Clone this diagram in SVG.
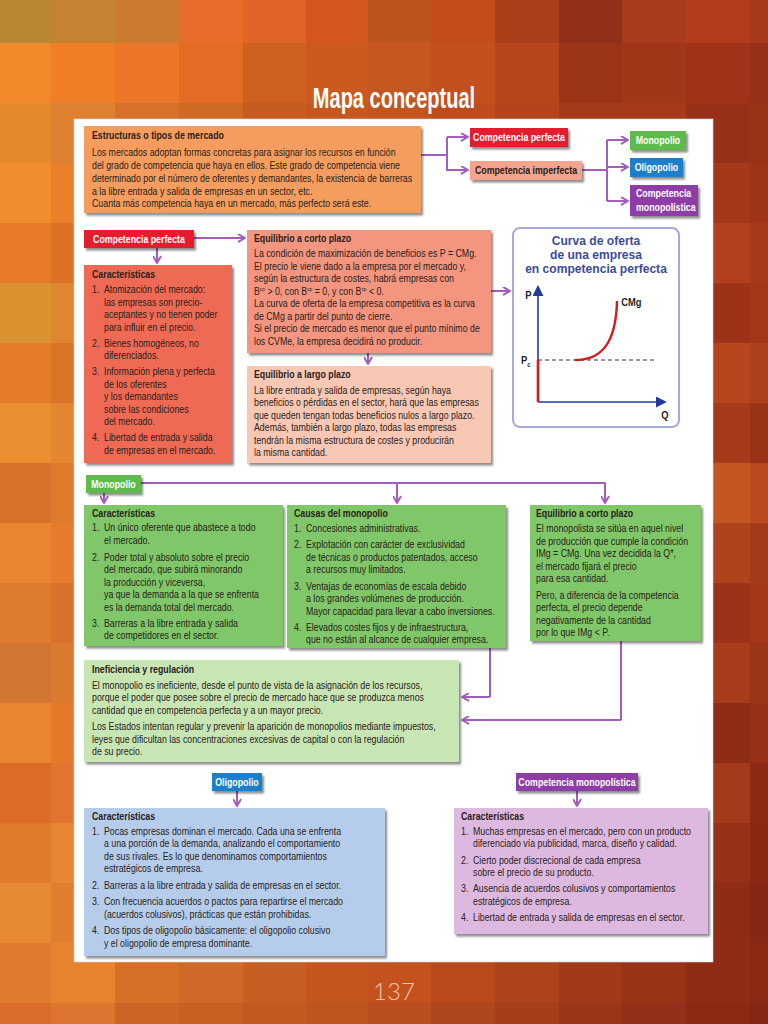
<svg xmlns="http://www.w3.org/2000/svg" width="768" height="1024" viewBox="0 0 768 1024">
<defs>
<style>
.t{font-family:"Liberation Sans",Arial,Helvetica,sans-serif;font-size:11px;fill:#2a2119}
.h{font-weight:bold}
.lw{font-family:"Liberation Sans",Arial,sans-serif;font-size:11px;font-weight:bold;fill:#fff;text-anchor:middle}
.ld{font-family:"Liberation Sans",Arial,sans-serif;font-size:11px;font-weight:bold;fill:#2a2119;text-anchor:middle}
.cn{fill:none;stroke:#A45CBD;stroke-width:2}
.ar{marker-end:url(#arr)}
.bx{filter:url(#sh)}
.g{font-family:"Liberation Sans",Arial,sans-serif;font-weight:bold;fill:#1e1e1e;font-size:11px}
</style>
<filter id="sh" x="-5%" y="-5%" width="115%" height="125%"><feDropShadow dx="2" dy="2.5" stdDeviation="1.2" flood-color="#000" flood-opacity="0.45"/></filter>
<marker id="arr" viewBox="0 0 10 10" refX="9" refY="5" markerWidth="9" markerHeight="9" orient="auto" markerUnits="userSpaceOnUse"><path d="M2,1 L9,5 L2,9" fill="none" stroke="#A45CBD" stroke-width="2.2" stroke-linecap="round" stroke-linejoin="round"/></marker>
<marker id="ax" viewBox="0 0 10 10" refX="1" refY="5" markerWidth="11" markerHeight="11" orient="auto" markerUnits="userSpaceOnUse"><path d="M0,0 L10,5 L0,10 z" fill="#23399B"/></marker>
</defs>

<g id="bg">
<rect x="0" y="0" width="768" height="1024" fill="#C65A22"/>
<g>
<rect x="-13" y="-17" width="64" height="60" fill="#B8872F"/><rect x="51" y="-17" width="64" height="60" fill="#C58230"/><rect x="115" y="-17" width="64" height="60" fill="#CC7A2E"/><rect x="179" y="-17" width="64" height="60" fill="#E96D2A"/><rect x="243" y="-17" width="64" height="60" fill="#E06427"/><rect x="306" y="-17" width="64" height="60" fill="#D3571F"/><rect x="368" y="-17" width="64" height="60" fill="#BD5420"/><rect x="431" y="-17" width="64" height="60" fill="#C34E1B"/><rect x="495" y="-17" width="64" height="60" fill="#AB3F1A"/><rect x="559" y="-17" width="64" height="60" fill="#90301A"/><rect x="622" y="-17" width="64" height="60" fill="#A93A1B"/><rect x="686" y="-17" width="64" height="60" fill="#B23D1C"/><rect x="750" y="-17" width="64" height="60" fill="#A7381A"/>
<rect x="-13" y="43" width="64" height="60" fill="#F28A2C"/><rect x="51" y="43" width="64" height="60" fill="#EF7E26"/><rect x="115" y="43" width="64" height="60" fill="#EC7627"/><rect x="179" y="43" width="64" height="60" fill="#E46B26"/><rect x="243" y="43" width="64" height="60" fill="#CF611F"/><rect x="306" y="43" width="64" height="60" fill="#CC5A1E"/><rect x="368" y="43" width="64" height="60" fill="#C75720"/><rect x="431" y="43" width="64" height="60" fill="#C45020"/><rect x="495" y="43" width="64" height="60" fill="#B8461C"/><rect x="559" y="43" width="64" height="60" fill="#9C3418"/><rect x="622" y="43" width="64" height="60" fill="#A23619"/><rect x="686" y="43" width="64" height="60" fill="#A03219"/><rect x="750" y="43" width="64" height="60" fill="#98301A"/>
<rect x="-13" y="103" width="64" height="60" fill="#E48A2C"/><rect x="51" y="103" width="64" height="60" fill="#DD8130"/><rect x="115" y="103" width="64" height="60" fill="#D77028"/><rect x="179" y="103" width="64" height="60" fill="#CF6A24"/><rect x="243" y="103" width="64" height="60" fill="#C65C21"/><rect x="306" y="103" width="64" height="60" fill="#C4581F"/><rect x="368" y="103" width="64" height="60" fill="#C2541E"/><rect x="431" y="103" width="64" height="60" fill="#BE4C1C"/><rect x="495" y="103" width="64" height="60" fill="#B4441B"/><rect x="559" y="103" width="64" height="60" fill="#A43A19"/><rect x="622" y="103" width="64" height="60" fill="#A63A1A"/><rect x="686" y="103" width="64" height="60" fill="#983017"/><rect x="750" y="103" width="64" height="60" fill="#9A3218"/>
<rect x="-13" y="163" width="64" height="60" fill="#F18D2F"/><rect x="51" y="163" width="64" height="60" fill="#E98029"/><rect x="686" y="163" width="64" height="60" fill="#A43819"/><rect x="750" y="163" width="64" height="60" fill="#9E3318"/>
<rect x="-13" y="223" width="64" height="60" fill="#E67A27"/><rect x="51" y="223" width="64" height="60" fill="#DC7027"/><rect x="686" y="223" width="64" height="60" fill="#B2401C"/><rect x="750" y="223" width="64" height="60" fill="#A83A1A"/>
<rect x="-13" y="283" width="64" height="60" fill="#D9922F"/><rect x="51" y="283" width="64" height="60" fill="#E08530"/><rect x="686" y="283" width="64" height="60" fill="#9E3218"/><rect x="750" y="283" width="64" height="60" fill="#A5361A"/>
<rect x="-13" y="343" width="64" height="60" fill="#E47C2A"/><rect x="51" y="343" width="64" height="60" fill="#D97328"/><rect x="686" y="343" width="64" height="60" fill="#B8461D"/><rect x="750" y="343" width="64" height="60" fill="#AE3F1C"/>
<rect x="-13" y="403" width="64" height="60" fill="#EB8E31"/><rect x="51" y="403" width="64" height="60" fill="#E48530"/><rect x="686" y="403" width="64" height="60" fill="#A63A1A"/><rect x="750" y="403" width="64" height="60" fill="#9A3218"/>
<rect x="-13" y="463" width="64" height="60" fill="#D8722A"/><rect x="51" y="463" width="64" height="60" fill="#DE7A2C"/><rect x="686" y="463" width="64" height="60" fill="#C45622"/><rect x="750" y="463" width="64" height="60" fill="#B84A1E"/>
<rect x="-13" y="523" width="64" height="60" fill="#EA8430"/><rect x="51" y="523" width="64" height="60" fill="#E47C2B"/><rect x="686" y="523" width="64" height="60" fill="#B0421C"/><rect x="750" y="523" width="64" height="60" fill="#A43A1A"/>
<rect x="-13" y="583" width="64" height="60" fill="#DE7C2E"/><rect x="51" y="583" width="64" height="60" fill="#D8722A"/><rect x="686" y="583" width="64" height="60" fill="#9C3219"/><rect x="750" y="583" width="64" height="60" fill="#A53819"/>
<rect x="-13" y="643" width="64" height="60" fill="#D27432"/><rect x="51" y="643" width="64" height="60" fill="#DA7A2E"/><rect x="686" y="643" width="64" height="60" fill="#A83C1B"/><rect x="750" y="643" width="64" height="60" fill="#9C3418"/>
<rect x="-13" y="703" width="64" height="60" fill="#EA842E"/><rect x="51" y="703" width="64" height="60" fill="#E27A2A"/><rect x="686" y="703" width="64" height="60" fill="#8E2C16"/><rect x="750" y="703" width="64" height="60" fill="#983017"/>
<rect x="-13" y="763" width="64" height="60" fill="#DA6C28"/><rect x="51" y="763" width="64" height="60" fill="#E07430"/><rect x="686" y="763" width="64" height="60" fill="#A43A1A"/><rect x="750" y="763" width="64" height="60" fill="#8C2A15"/>
<rect x="-13" y="823" width="64" height="60" fill="#E27A2C"/><rect x="51" y="823" width="64" height="60" fill="#E88634"/><rect x="686" y="823" width="64" height="60" fill="#963018"/><rect x="750" y="823" width="64" height="60" fill="#8A2814"/>
<rect x="-13" y="883" width="64" height="60" fill="#E88A34"/><rect x="51" y="883" width="64" height="60" fill="#DE7E2E"/><rect x="686" y="883" width="64" height="60" fill="#8E2C16"/><rect x="750" y="883" width="64" height="60" fill="#862713"/>
<rect x="-13" y="943" width="64" height="60" fill="#E07A2E"/><rect x="51" y="943" width="64" height="60" fill="#E8822F"/><rect x="115" y="943" width="64" height="60" fill="#D66E26"/><rect x="179" y="943" width="64" height="60" fill="#D0682A"/><rect x="243" y="943" width="64" height="60" fill="#C85E24"/><rect x="306" y="943" width="64" height="60" fill="#C4561F"/><rect x="368" y="943" width="64" height="60" fill="#C4521F"/><rect x="431" y="943" width="64" height="60" fill="#BA4A1C"/><rect x="495" y="943" width="64" height="60" fill="#AE421B"/><rect x="559" y="943" width="64" height="60" fill="#A23A19"/><rect x="622" y="943" width="64" height="60" fill="#9A3218"/><rect x="686" y="943" width="64" height="60" fill="#8E2C16"/><rect x="750" y="943" width="64" height="60" fill="#8A2A15"/>
<rect x="-13" y="1003" width="64" height="60" fill="#D86C28"/><rect x="51" y="1003" width="64" height="60" fill="#DC7430"/><rect x="115" y="1003" width="64" height="60" fill="#CC6426"/><rect x="179" y="1003" width="64" height="60" fill="#C86024"/><rect x="243" y="1003" width="64" height="60" fill="#C25A22"/><rect x="306" y="1003" width="64" height="60" fill="#BE5420"/><rect x="368" y="1003" width="64" height="60" fill="#BA4E1E"/><rect x="431" y="1003" width="64" height="60" fill="#B0461C"/><rect x="495" y="1003" width="64" height="60" fill="#A63E1A"/><rect x="559" y="1003" width="64" height="60" fill="#9C3618"/><rect x="622" y="1003" width="64" height="60" fill="#94301A"/><rect x="686" y="1003" width="64" height="60" fill="#8A2A15"/><rect x="750" y="1003" width="64" height="60" fill="#842614"/>
</g>
</g>

<g id="title"><g transform="translate(394,0) scale(0.69,1)"><text x="0" y="108" text-anchor="middle" font-family="Liberation Sans, Arial, sans-serif" font-size="29" font-weight="bold" fill="#fff">Mapa conceptual</text></g></g>

<rect id="panel" x="74" y="119" width="639" height="843" fill="#fff" stroke="#d8d8d8" stroke-width="0.6"/>

<g id="connectors">
<path class="cn" d="M421,155 H447 M447,137 V171 M582,170 H607 M607,140 V201 M141,483 H605 M490,648 V697 M621,641 V720"/>
<path class="cn ar" d="M447,137 H468"/>
<path class="cn ar" d="M447,170 H468"/>
<path class="cn ar" d="M607,140 H628"/>
<path class="cn ar" d="M607,167 H628"/>
<path class="cn ar" d="M607,201 H628"/>
<path class="cn ar" d="M194,238 H245"/>
<path class="cn ar" d="M157,247 V263"/>
<path class="cn ar" d="M491,291 H510"/>
<path class="cn ar" d="M368,353 V364"/>
<path class="cn ar" d="M397,483 V503"/>
<path class="cn ar" d="M605,483 V503"/>
<path class="cn ar" d="M104,492 V503"/>
<path class="cn ar" d="M490,697 H462"/>
<path class="cn ar" d="M621,720 H462"/>
<path class="cn ar" d="M237,791 V806"/>
<path class="cn ar" d="M577,791 V806"/>
</g>

<g id="estructuras">
<rect class="bx" x="84" y="126" width="337" height="87" fill="#F59D5E"/>
<g transform="translate(92,0) scale(0.8,1)">
<text class="t h" x="0" y="139">Estructuras o tipos de mercado</text>
<text class="t" x="0" y="156">Los mercados adoptan formas concretas para asignar los recursos en función</text>
<text class="t" x="0" y="169">del grado de competencia que haya en ellos. Este grado de competencia viene</text>
<text class="t" x="0" y="182">determinado por el número de oferentes y demandantes, la existencia de barreras</text>
<text class="t" x="0" y="195">a la libre entrada y salida de empresas en un sector, etc.</text>
<text class="t" x="0" y="207">Cuanta más competencia haya en un mercado, más perfecto será este.</text>
</g>
</g>

<g id="comp-perfecta-top">
<rect class="bx" x="470" y="128" width="98" height="19" fill="#E31B2D"/>
<g transform="translate(519,0) scale(0.8,1)"><text class="lw" x="0" y="141">Competencia perfecta</text></g>
</g>
<g id="comp-imperfecta">
<rect class="bx" x="470" y="161" width="112" height="19" fill="#F6A38D"/>
<g transform="translate(526,0) scale(0.8,1)"><text class="ld" x="0" y="174">Competencia imperfecta</text></g>
</g>
<g id="monopolio-top">
<rect class="bx" x="630" y="131" width="56" height="19" fill="#5DBB4C"/>
<g transform="translate(658,0) scale(0.8,1)"><text class="lw" x="0" y="144">Monopolio</text></g>
</g>
<g id="oligopolio-top">
<rect class="bx" x="630" y="158" width="53" height="19" fill="#1B7FCC"/>
<g transform="translate(656.5,0) scale(0.8,1)"><text class="lw" x="0" y="171">Oligopolio</text></g>
</g>
<g id="comp-monopolistica-top">
<rect class="bx" x="630" y="185" width="68" height="31" fill="#8E3DA6"/>
<g transform="translate(636,0) scale(0.8,1)"><text class="lw" style="text-anchor:start" x="0" y="197">Competencia</text><text class="lw" style="text-anchor:start" x="0" y="211">monopolística</text></g>
</g>

<g id="comp-perfecta">
<rect class="bx" x="84" y="230" width="110" height="18" fill="#E31B2D"/>
<g transform="translate(139,0) scale(0.8,1)"><text class="lw" x="0" y="243">Competencia perfecta</text></g>
</g>

<g id="caract-cp">
<rect class="bx" x="84" y="265" width="148" height="198" fill="#EF6B55"/>
<g transform="translate(92,0) scale(0.8,1)">
<text class="t h" x="0" y="278">Características</text>
<text class="t" y="293"><tspan x="0">1.</tspan><tspan x="15">Atomización del mercado:</tspan></text>
<text class="t" x="15" y="306">las empresas son precio-</text>
<text class="t" x="15" y="318">aceptantes y no tienen poder</text>
<text class="t" x="15" y="331">para influir en el precio.</text>
<text class="t" y="347"><tspan x="0">2.</tspan><tspan x="15">Bienes homogéneos, no</tspan></text>
<text class="t" x="15" y="359">diferenciados.</text>
<text class="t" y="375"><tspan x="0">3.</tspan><tspan x="15">Información plena y perfecta</tspan></text>
<text class="t" x="15" y="388">de los oferentes</text>
<text class="t" x="15" y="400">y los demandantes</text>
<text class="t" x="15" y="413">sobre las condiciones</text>
<text class="t" x="15" y="425">del mercado.</text>
<text class="t" y="441"><tspan x="0">4.</tspan><tspan x="15">Libertad de entrada y salida</tspan></text>
<text class="t" x="15" y="454">de empresas en el mercado.</text>
</g>
</g>

<g id="equilibrio-corto-cp">
<rect class="bx" x="247" y="230" width="244" height="123" fill="#F4957F"/>
<g transform="translate(254,0) scale(0.8,1)">
<text class="t h" x="0" y="242">Equilibrio a corto plazo</text>
<text class="t" x="0" y="257">La condición de maximización de beneficios es P = CMg.</text>
<text class="t" x="0" y="270">El precio le viene dado a la empresa por el mercado y,</text>
<text class="t" x="0" y="282">según la estructura de costes, habrá empresas con</text>
<text class="t" x="0" y="295">B<tspan font-size="6" dy="-4">cp</tspan><tspan dy="4"> &gt; 0, con B</tspan><tspan font-size="6" dy="-4">cp</tspan><tspan dy="4"> = 0, y con B</tspan><tspan font-size="6" dy="-4">cp</tspan><tspan dy="4"> &lt; 0.</tspan></text>
<text class="t" x="0" y="307">La curva de oferta de la empresa competitiva es la curva</text>
<text class="t" x="0" y="320">de CMg a partir del punto de cierre.</text>
<text class="t" x="0" y="332">Si el precio de mercado es menor que el punto mínimo de</text>
<text class="t" x="0" y="345">los CVMe, la empresa decidirá no producir.</text>
</g>
</g>

<g id="equilibrio-largo-cp">
<rect class="bx" x="247" y="366" width="244" height="97" fill="#F9C8B5"/>
<g transform="translate(254,0) scale(0.8,1)">
<text class="t h" x="0" y="378">Equilibrio a largo plazo</text>
<text class="t" x="0" y="394">La libre entrada y salida de empresas, según haya</text>
<text class="t" x="0" y="406">beneficios o pérdidas en el sector, hará que las empresas</text>
<text class="t" x="0" y="419">que queden tengan todas beneficios nulos a largo plazo.</text>
<text class="t" x="0" y="431">Además, también a largo plazo, todas las empresas</text>
<text class="t" x="0" y="444">tendrán la misma estructura de costes y producirán</text>
<text class="t" x="0" y="456">la misma cantidad.</text>
</g>
</g>

<g id="curva-oferta">
<rect x="513" y="228" width="166" height="199" rx="7" fill="#fff" stroke="#A9A9D8" stroke-width="2"/>
<g transform="translate(596,0) scale(0.93,1)" font-family="Liberation Sans, Arial, sans-serif" font-size="13" font-weight="bold" fill="#3B4C9F" text-anchor="middle">
<text x="0" y="245">Curva de oferta</text>
<text x="0" y="259">de una empresa</text>
<text x="0" y="273">en competencia perfecta</text>
</g>
<line x1="538" y1="402" x2="538" y2="295" stroke="#23399B" stroke-width="1.6" marker-end="url(#ax)"/>
<line x1="538" y1="402" x2="657" y2="402" stroke="#23399B" stroke-width="1.6" marker-end="url(#ax)"/>
<line x1="538" y1="360" x2="657" y2="360" stroke="#333" stroke-width="1" stroke-dasharray="4,3"/>
<line x1="538" y1="360" x2="538" y2="402" stroke="#D7191F" stroke-width="2.6"/>
<path d="M575,360 C601,360 616,344 617,301" fill="none" stroke="#D7191F" stroke-width="2.4"/>
<g transform="scale(0.85,1)">
<text class="g" x="618" y="299">P</text>
<text class="g" x="613" y="364">P<tspan font-size="7" dy="3">c</tspan></text>
<text class="g" x="778" y="419">Q</text>
<text class="g" x="731" y="306">CMg</text>
</g>
</g>

<g id="monopolio">
<rect class="bx" x="86" y="475" width="55" height="18" fill="#5DBB4C"/>
<g transform="translate(113.5,0) scale(0.8,1)"><text class="lw" x="0" y="488">Monopolio</text></g>
</g>

<g id="caract-monopolio">
<rect class="bx" x="84" y="505" width="199" height="141" fill="#80C76B"/>
<g transform="translate(92,0) scale(0.8,1)">
<text class="t h" x="0" y="517">Características</text>
<text class="t" y="531"><tspan x="0">1.</tspan><tspan x="15">Un único oferente que abastece a todo</tspan></text>
<text class="t" x="15" y="544">el mercado.</text>
<text class="t" y="561"><tspan x="0">2.</tspan><tspan x="15">Poder total y absoluto sobre el precio</tspan></text>
<text class="t" x="15" y="573">del mercado, que subirá minorando</text>
<text class="t" x="15" y="586">la producción y viceversa,</text>
<text class="t" x="15" y="598">ya que la demanda a la que se enfrenta</text>
<text class="t" x="15" y="611">es la demanda total del mercado.</text>
<text class="t" y="627"><tspan x="0">3.</tspan><tspan x="15">Barreras a la libre entrada y salida</tspan></text>
<text class="t" x="15" y="639">de competidores en el sector.</text>
</g>
</g>

<g id="causas-monopolio">
<rect class="bx" x="287" y="505" width="219" height="143" fill="#80C76B"/>
<g transform="translate(294,0) scale(0.8,1)">
<text class="t h" x="0" y="517">Causas del monopolio</text>
<text class="t" y="532"><tspan x="0">1.</tspan><tspan x="15">Concesiones administrativas.</tspan></text>
<text class="t" y="548"><tspan x="0">2.</tspan><tspan x="15">Explotación con carácter de exclusividad</tspan></text>
<text class="t" x="15" y="561">de técnicas o productos patentados, acceso</text>
<text class="t" x="15" y="573">a recursos muy limitados.</text>
<text class="t" y="590"><tspan x="0">3.</tspan><tspan x="15">Ventajas de economías de escala debido</tspan></text>
<text class="t" x="15" y="602">a los grandes volúmenes de producción.</text>
<text class="t" x="15" y="615">Mayor capacidad para llevar a cabo inversiones.</text>
<text class="t" y="631"><tspan x="0">4.</tspan><tspan x="15">Elevados costes fijos y de infraestructura,</tspan></text>
<text class="t" x="15" y="643">que no están al alcance de cualquier empresa.</text>
</g>
</g>

<g id="equilibrio-monopolio">
<rect class="bx" x="530" y="505" width="171" height="136" fill="#80C76B"/>
<g transform="translate(536,0) scale(0.8,1)">
<text class="t h" x="0" y="517">Equilibrio a corto plazo</text>
<text class="t" x="0" y="532">El monopolista se sitúa en aquel nivel</text>
<text class="t" x="0" y="545">de producción que cumple la condición</text>
<text class="t" x="0" y="557">IMg = CMg. Una vez decidida la Q*,</text>
<text class="t" x="0" y="570">el mercado fijará el precio</text>
<text class="t" x="0" y="582">para esa cantidad.</text>
<text class="t" x="0" y="599">Pero, a diferencia de la competencia</text>
<text class="t" x="0" y="611">perfecta, el precio depende</text>
<text class="t" x="0" y="624">negativamente de la cantidad</text>
<text class="t" x="0" y="636">por lo que IMg &lt; P.</text>
</g>
</g>

<g id="ineficiencia">
<rect class="bx" x="84" y="660" width="375" height="102" fill="#C8E6B4"/>
<g transform="translate(92,0) scale(0.8,1)">
<text class="t h" x="0" y="673">Ineficiencia y regulación</text>
<text class="t" x="0" y="689">El monopolio es ineficiente, desde el punto de vista de la asignación de los recursos,</text>
<text class="t" x="0" y="701">porque el poder que posee sobre el precio de mercado hace que se produzca menos</text>
<text class="t" x="0" y="714">cantidad que en competencia perfecta y a un mayor precio.</text>
<text class="t" x="0" y="730">Los Estados intentan regular y prevenir la aparición de monopolios mediante impuestos,</text>
<text class="t" x="0" y="743">leyes que dificultan las concentraciones excesivas de capital o con la regulación</text>
<text class="t" x="0" y="755">de su precio.</text>
</g>
</g>

<g id="oligopolio">
<rect class="bx" x="212" y="773" width="50" height="18" fill="#1B7FCC"/>
<g transform="translate(237,0) scale(0.8,1)"><text class="lw" x="0" y="786">Oligopolio</text></g>
</g>

<g id="caract-oligopolio">
<rect class="bx" x="84" y="808" width="301" height="148" fill="#B5CDEA"/>
<g transform="translate(92,0) scale(0.8,1)">
<text class="t h" x="0" y="820">Características</text>
<text class="t" y="835"><tspan x="0">1.</tspan><tspan x="15">Pocas empresas dominan el mercado. Cada una se enfrenta</tspan></text>
<text class="t" x="15" y="847">a una porción de la demanda, analizando el comportamiento</text>
<text class="t" x="15" y="860">de sus rivales. Es lo que denominamos comportamientos</text>
<text class="t" x="15" y="872">estratégicos de empresa.</text>
<text class="t" y="889"><tspan x="0">2.</tspan><tspan x="15">Barreras a la libre entrada y salida de empresas en el sector.</tspan></text>
<text class="t" y="905"><tspan x="0">3.</tspan><tspan x="15">Con frecuencia acuerdos o pactos para repartirse el mercado</tspan></text>
<text class="t" x="15" y="918">(acuerdos colusivos), prácticas que están prohibidas.</text>
<text class="t" y="934"><tspan x="0">4.</tspan><tspan x="15">Dos tipos de oligopolio básicamente: el oligopolio colusivo</tspan></text>
<text class="t" x="15" y="947">y el oligopolio de empresa dominante.</text>
</g>
</g>

<g id="comp-monopolistica">
<rect class="bx" x="516" y="773" width="122" height="18" fill="#8E3DA6"/>
<g transform="translate(577,0) scale(0.8,1)"><text class="lw" x="0" y="786">Competencia monopolística</text></g>
</g>

<g id="caract-comp-monopolistica">
<rect class="bx" x="454" y="808" width="254" height="126" fill="#DDB9E0"/>
<g transform="translate(461,0) scale(0.8,1)">
<text class="t h" x="0" y="820">Características</text>
<text class="t" y="835"><tspan x="0">1.</tspan><tspan x="15">Muchas empresas en el mercado, pero con un producto</tspan></text>
<text class="t" x="15" y="847">diferenciado vía publicidad, marca, diseño y calidad.</text>
<text class="t" y="864"><tspan x="0">2.</tspan><tspan x="15">Cierto poder discrecional de cada empresa</tspan></text>
<text class="t" x="15" y="876">sobre el precio de su producto.</text>
<text class="t" y="892"><tspan x="0">3.</tspan><tspan x="15">Ausencia de acuerdos colusivos y comportamientos</tspan></text>
<text class="t" x="15" y="905">estratégicos de empresa.</text>
<text class="t" y="921"><tspan x="0">4.</tspan><tspan x="15">Libertad de entrada y salida de empresas en el sector.</tspan></text>
</g>
</g>

<g id="page-number"><text x="394" y="1000" text-anchor="middle" font-family="Lato, 'Open Sans', sans-serif" font-weight="300" font-size="24" fill="#F2C4B0">137</text></g>
</svg>
